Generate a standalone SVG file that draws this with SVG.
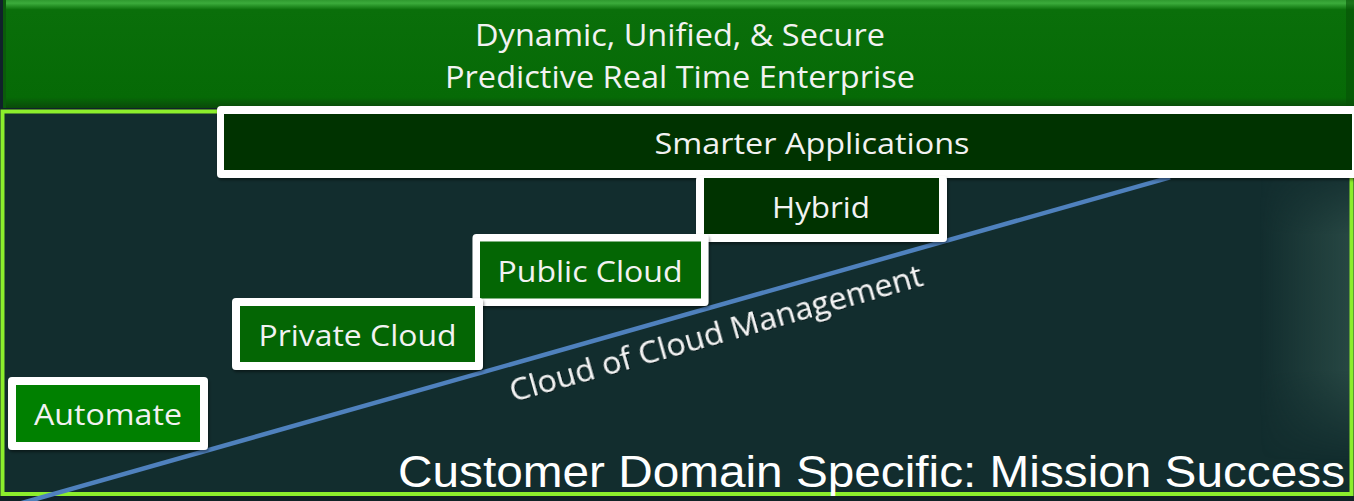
<svg xmlns="http://www.w3.org/2000/svg" width="1354" height="501" viewBox="0 0 1354 501">
  <defs>
    <linearGradient id="bannerGrad" x1="0" y1="0" x2="0" y2="1">
      <stop offset="0" stop-color="#2f9a2f"/>
      <stop offset="0.03" stop-color="#3bab3b"/>
      <stop offset="0.09" stop-color="#0a6f0a"/>
      <stop offset="0.9" stop-color="#066a06"/>
      <stop offset="1" stop-color="#0a4a0a"/>
    </linearGradient>
    <linearGradient id="rightGlow" x1="0" y1="0" x2="1" y2="0">
      <stop offset="0" stop-color="#2c4d48" stop-opacity="0"/>
      <stop offset="1" stop-color="#2c4d48" stop-opacity="0.85"/>
    </linearGradient>
    <linearGradient id="fadeV" x1="0" y1="0" x2="0" y2="1">
      <stop offset="0" stop-color="#fff" stop-opacity="0"/>
      <stop offset="0.25" stop-color="#fff" stop-opacity="1"/>
      <stop offset="0.7" stop-color="#fff" stop-opacity="1"/>
      <stop offset="1" stop-color="#fff" stop-opacity="0"/>
    </linearGradient>
    <mask id="glowMask">
      <rect x="1260" y="160" width="94" height="300" fill="url(#fadeV)"/>
    </mask>
    <filter id="shadow" x="-5%" y="-20%" width="110%" height="140%">
      <feDropShadow dx="1" dy="2" stdDeviation="1.5" flood-color="#000" flood-opacity="0.45"/>
    </filter>
    <filter id="tshadow" x="-5%" y="-30%" width="110%" height="160%">
      <feDropShadow dx="1" dy="1" stdDeviation="0.6" flood-color="#000" flood-opacity="0.5"/>
    </filter>
  </defs>
  <style>
    .lbl { font-family: "Open Sans", "Noto Sans", sans-serif; fill: #f2f2f2; text-anchor: middle; }
    .box-outer { fill: #ffffff; filter: url(#shadow); }
    .dark { fill: #003300; }
    .mid { fill: #046604; }
    .bright { fill: #008000; }
  </style>

  <!-- background -->
  <rect x="0" y="0" width="1354" height="501" fill="#10222a"/>
  <rect x="2" y="110" width="1352" height="386" fill="#122d2e"/>
  <rect x="1260" y="160" width="94" height="300" fill="url(#rightGlow)" mask="url(#glowMask)"/>
  <rect x="0" y="496" width="1354" height="5" fill="#0f2226"/>

  <!-- frame -->
  <rect x="2.5" y="111.5" width="1349" height="382.5" fill="none" stroke="#8cee2c" stroke-width="4"/>

  <!-- banner -->
  <g id="banner">
    <rect x="3" y="0" width="1351" height="108" fill="url(#bannerGrad)"/>
    <rect x="3" y="0" width="3" height="108" fill="#0b5a0b"/>
    <rect x="1346" y="0" width="8" height="108" fill="#065206" opacity="0.6"/>
    <text class="lbl" x="680" y="46" font-size="31" textLength="410" lengthAdjust="spacingAndGlyphs">Dynamic, Unified, &amp; Secure</text>
    <text class="lbl" x="680" y="88" font-size="31" textLength="470" lengthAdjust="spacingAndGlyphs">Predictive Real Time Enterprise</text>
  </g>

  <!-- connectors -->
  <g id="connectors">
    <line x1="20" y1="503.5" x2="1170" y2="177.3" stroke="#4f81bd" stroke-width="4.5"/>
  </g>

  <!-- Smarter Applications -->
  <g id="smarter-applications">
    <rect class="box-outer" x="217" y="106" width="1145" height="72" rx="4"/>
    <rect class="dark" x="224" y="114" width="1128" height="56"/>
    <text class="lbl" x="812" y="154" font-size="29" textLength="315" lengthAdjust="spacingAndGlyphs">Smarter Applications</text>
  </g>

  <!-- Hybrid -->
  <g id="hybrid">
    <rect class="box-outer" x="696" y="176" width="251" height="66" rx="4"/>
    <rect class="dark" x="704" y="178" width="235" height="56"/>
    <text class="lbl" x="821" y="218" font-size="29" textLength="98" lengthAdjust="spacingAndGlyphs">Hybrid</text>
  </g>

  <!-- Public Cloud -->
  <g id="public-cloud">
    <rect class="box-outer" x="472.5" y="234" width="236" height="72" rx="4"/>
    <rect class="mid" x="480" y="241.5" width="221" height="57"/>
    <text class="lbl" x="590" y="282" font-size="29" textLength="185" lengthAdjust="spacingAndGlyphs">Public Cloud</text>
  </g>

  <!-- Private Cloud -->
  <g id="private-cloud">
    <rect class="box-outer" x="232" y="298" width="251" height="72" rx="4"/>
    <rect class="mid" x="240" y="306" width="235" height="56"/>
    <text class="lbl" x="357.5" y="346" font-size="29" textLength="198" lengthAdjust="spacingAndGlyphs">Private Cloud</text>
  </g>

  <!-- Automate -->
  <g id="automate">
    <rect class="box-outer" x="8" y="377" width="200" height="73" rx="4"/>
    <rect class="bright" x="16" y="385" width="184" height="57"/>
    <text class="lbl" x="108" y="425" font-size="29" textLength="148" lengthAdjust="spacingAndGlyphs">Automate</text>
  </g>

  <!-- rotated label -->
  <g id="cloud-management-label">
    <text x="513" y="402" transform="rotate(-15.84 513 402)" font-family="Open Sans, Noto Sans, sans-serif" font-size="31" fill="#f4f4f4" filter="url(#tshadow)" textLength="428" lengthAdjust="spacingAndGlyphs">Cloud of Cloud Management</text>
  </g>

  <!-- bottom title -->
  <g id="mission-title">
    <text x="398" y="487" font-family="Liberation Sans, Arial, sans-serif" font-size="44" fill="#ffffff" textLength="947" lengthAdjust="spacingAndGlyphs">Customer Domain Specific: Mission Success</text>
  </g>
</svg>
